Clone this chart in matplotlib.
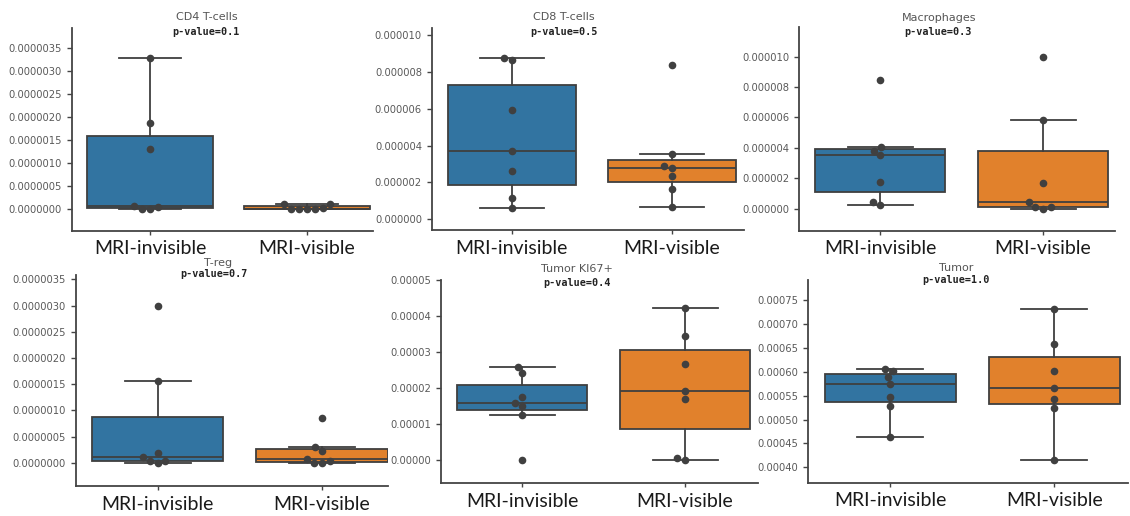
import numpy as np
import pandas as pd
import matplotlib
matplotlib.use('Agg')
import matplotlib.pyplot as plt
import seaborn as sns
from matplotlib.ticker import FormatStrFormatter

groups = ['MRI-invisible', 'MRI-visible']
colors = ['#3274a1', '#e1812c']

cd4_inv = [3.28e-6, 1.87e-6, 1.29e-6, 0.057e-6, 0.0, 0.0, 0.03e-6]
cd4_vis = [0.094e-6, 0.0, 0.0, 0.0, 0.0, 0.01e-6, 0.10e-6]
cd8_inv = [8.73e-6, 8.63e-6, 5.95e-6, 3.71e-6, 2.60e-6, 1.17e-6, 0.60e-6]
cd8_vis = [8.37e-6, 3.53e-6, 2.91e-6, 2.80e-6, 2.35e-6, 1.66e-6, 0.68e-6]
mac_inv = [8.47e-6, 4.06e-6, 3.82e-6, 3.53e-6, 1.76e-6, 0.42e-6, 0.22e-6]
mac_vis = [10.0e-6, 5.84e-6, 1.71e-6, 0.42e-6, 0.14e-6, 0.12e-6, 0.0]
treg_inv = [2.99e-6, 1.565e-6, 0.19e-6, 0.10e-6, 0.04e-6, 0.035e-6, 0.0]
treg_vis = [0.853e-6, 0.305e-6, 0.23e-6, 0.065e-6, 0.038e-6, 0.0, 0.0]
ki67_inv = [2.59e-5, 2.41e-5, 1.745e-5, 1.57e-5, 1.51e-5, 1.24e-5, 0.0]
ki67_vis = [4.21e-5, 3.43e-5, 2.67e-5, 1.91e-5, 1.68e-5, 0.056e-5, 0.0]
tumor_inv = [6.063e-4, 6.01e-4, 5.89e-4, 5.74e-4, 5.47e-4, 5.28e-4, 4.63e-4]
tumor_vis = [7.305e-4, 6.59e-4, 6.01e-4, 5.665e-4, 5.43e-4, 5.24e-4, 4.146e-4]

titles = ['CD4 T-cells', 'CD8 T-cells', 'Macrophages', 'T-reg', 'Tumor KI67+', 'Tumor']
pvals = ['0.1', '0.5', '0.3', '0.7', '0.4', '1.0']
yticks = [np.arange(0, 3.6e-6, 0.5e-6), np.arange(0, 1.1e-5, 2e-6), np.arange(0, 1.1e-5, 2e-6),
          np.arange(0, 3.6e-6, 0.5e-6), np.arange(0, 5.5e-5, 1e-5), np.arange(4e-4, 7.6e-4, 0.5e-4)]
yfmt = ['%.7f', '%.6f', '%.6f', '%.7f', '%.5f', '%.5f']

W, H = 1130, 516
# pixel layout: left, right, top, bottom, xmax, ymin, ymax, title x, title y, pval x, pval y
layout = [
    (71.5, 373, 28, 230.5, 1.42, -0.48e-6, 3.94e-6, 206.7, 16.7, 206.0, 32.3),
    (431.7, 744, 28, 230, 1.452, -0.58e-6, 10.38e-6, 564.3, 17, 564.3, 32),
    (799, 1115, 26.7, 230.7, 1.442, -1.45e-6, 11.97e-6, 939.3, 18, 938.3, 32.3),
    (75.5, 388, 275.3, 486, 1.402, -0.445e-6, 3.58e-6, 218, 262.7, 214.3, 274.3),
    (441, 758, 280, 483.3, 1.448, -0.65e-5, 5.0e-5, 576.7, 269.3, 576.7, 283.3),
    (808.3, 1128, 280, 482.7, 1.45, 3.68e-4, 7.92e-4, 956, 268.3, 956, 280.3),
]
data = [(cd4_inv, cd4_vis), (cd8_inv, cd8_vis), (mac_inv, mac_vis),
        (treg_inv, treg_vis), (ki67_inv, ki67_vis), (tumor_inv, tumor_vis)]

fig = plt.figure(figsize=(W / 100, H / 100), dpi=100)
fig.patch.set_facecolor('white')
line_c = '#3f3f3f'

for i, (inv, vis) in enumerate(data):
    l, r, t, b, xmax, y0, y1, tx, ty, px, py = layout[i]
    ax = fig.add_axes([l / W, 1 - b / H, (r - l) / W, (b - t) / H])
    ax.patch.set_alpha(0)
    bp = ax.boxplot([inv, vis], positions=[0, 1], widths=0.8, whis=1.5, showfliers=False,
                    patch_artist=True,
                    boxprops=dict(edgecolor=line_c, linewidth=1.3),
                    medianprops=dict(color=line_c, linewidth=1.3),
                    whiskerprops=dict(color=line_c, linewidth=1.3),
                    capprops=dict(color=line_c, linewidth=1.3))
    for patch, c in zip(bp['boxes'], colors):
        patch.set_facecolor(c)
    df = pd.DataFrame({'Type': [groups[0]] * len(inv) + [groups[1]] * len(vis),
                       'value': list(inv) + list(vis)})
    sns.swarmplot(data=df, x='Type', y='value', order=groups, color='.25', size=5.5,
                  ax=ax, zorder=3)
    ax.set_xlim(-0.5, xmax)
    ax.set_ylim(y0, y1)
    ax.set_xticks([0, 1])
    ax.set_xticklabels(groups, fontfamily='Lato', fontsize=14, color='#1a1a1a')
    ax.set_yticks(yticks[i])
    ax.yaxis.set_major_formatter(FormatStrFormatter(yfmt[i]))
    ax.tick_params(axis='y', labelsize=7.2, labelcolor='#5a5a5a', color='#444444', length=3.5, width=1)
    ax.tick_params(axis='x', color='#444444', length=3, width=1, pad=4)
    ax.set_xlabel('')
    ax.set_ylabel('')
    for s in ['top', 'right']:
        ax.spines[s].set_visible(False)
    for s in ['left', 'bottom']:
        ax.spines[s].set_color('#444444')
        ax.spines[s].set_linewidth(1.3)
    fig.text(tx / W, 1 - ty / H, titles[i], ha='center', va='center', fontsize=8, color='#555555')
    fig.text(px / W, 1 - py / H, 'p-value=' + pvals[i], ha='center', va='center', fontsize=7.3,
             fontfamily='DejaVu Sans Mono', fontweight='bold', color='#222222')

fig.savefig('out.png', dpi=100)
